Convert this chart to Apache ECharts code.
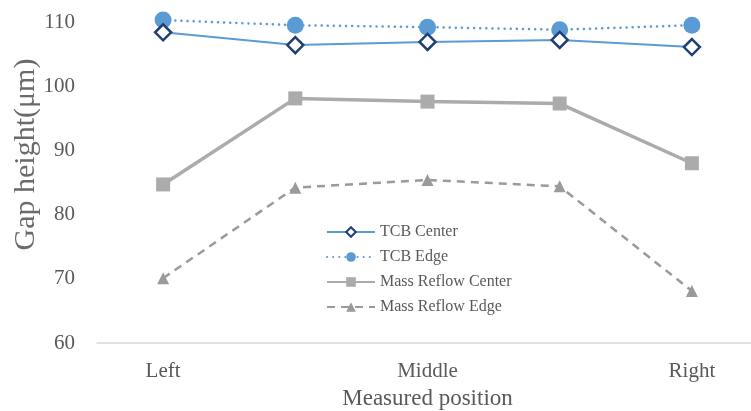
<!DOCTYPE html>
<html>
<head>
<meta charset="utf-8">
<script src="https://cdn.jsdelivr.net/npm/echarts@6/dist/echarts.min.js"></script>
<style>
html,body{margin:0;padding:0;background:#fff;}
#chart{width:751px;height:411px;}
</style>
</head>
<body>
<div id="chart"></div>
<script>
// Measurement positions along the die
const categories = ['Left', '', 'Middle', '', 'Right'];
// Gap heights in micrometres
const tcbCenter = [108.4, 106.4, 106.9, 107.2, 106.1];
const tcbEdge = [110.3, 109.5, 109.2, 108.8, 109.5];
const massReflowCenter = [84.7, 98.1, 97.6, 97.3, 88.0];
const massReflowEdge = [70.1, 84.2, 85.4, 84.4, 68.1];
const yTicks = [60, 70, 80, 90, 100, 110];

const serif = '"Liberation Serif", "DejaVu Serif", serif';
const textColor = '#595959';

const chart = echarts.init(document.getElementById('chart'), null, {renderer: 'canvas'});
chart.setOption({
  animation: false,
  backgroundColor: '#fff',
  grid: {left: 97, right: -7, top: 22, bottom: 68, containLabel: false, outerBoundsMode: 'none'},
  legend: {
    orient: 'vertical',
    left: 321,
    top: 219,
    itemWidth: 48,
    itemHeight: 12,
    itemGap: 9,
    textStyle: {fontFamily: serif, fontSize: 16, color: textColor},
    data: ['TCB Center', 'TCB Edge', 'Mass Reflow Center', 'Mass Reflow Edge']
  },
  xAxis: {
    type: 'category',
    data: categories,
    boundaryGap: true,
    axisLine: {lineStyle: {color: '#d9d9d9', width: 1.5}},
    axisTick: {show: false},
    axisLabel: {fontFamily: serif, fontSize: 21, color: textColor, margin: 18, interval: 0},
    name: 'Measured position',
    nameLocation: 'middle',
    nameGap: 44,
    nameTextStyle: {fontFamily: serif, fontSize: 23, color: textColor}
  },
  yAxis: {
    type: 'value',
    min: yTicks[0],
    max: yTicks[yTicks.length - 1],
    interval: 10,
    axisLine: {show: false},
    axisTick: {show: false},
    splitLine: {show: false},
    axisLabel: {fontFamily: serif, fontSize: 21, color: textColor, margin: 22},
    name: 'Gap height(μm)',
    nameLocation: 'middle',
    nameRotate: 90,
    nameGap: 56,
    nameMoveOverlap: false,
    nameTextStyle: {fontFamily: serif, fontSize: 30, color: '#6a6a6a', padding: [0, 0, 0, 56]}
  },
  series: [
    {
      name: 'TCB Center',
      type: 'line',
      data: tcbCenter,
      clip: false,
      symbol: 'diamond',
      symbolSize: 16,
      z: 4,
      lineStyle: {color: '#5b9bd5', width: 2},
      itemStyle: {color: '#ffffff', borderColor: '#1f3f73', borderWidth: 2.5}
    },
    {
      name: 'TCB Edge',
      type: 'line',
      data: tcbEdge,
      clip: false,
      symbol: 'circle',
      symbolSize: 17,
      z: 3,
      lineStyle: {color: '#5b9bd5', width: 2.5, type: [0.1, 6], cap: 'round'},
      itemStyle: {color: '#5b9bd5', borderWidth: 0}
    },
    {
      name: 'Mass Reflow Center',
      type: 'line',
      data: massReflowCenter,
      clip: false,
      symbol: 'rect',
      symbolSize: 14,
      lineStyle: {color: '#ababab', width: 3.5},
      itemStyle: {color: '#ababab', borderWidth: 0}
    },
    {
      name: 'Mass Reflow Edge',
      type: 'line',
      data: massReflowEdge,
      clip: false,
      symbol: 'triangle',
      symbolSize: 12,
      lineStyle: {color: '#9a9a9a', width: 2.5, type: [8, 6]},
      itemStyle: {color: '#9a9a9a', borderWidth: 0}
    }
  ]
});
</script>
</body>
</html>
